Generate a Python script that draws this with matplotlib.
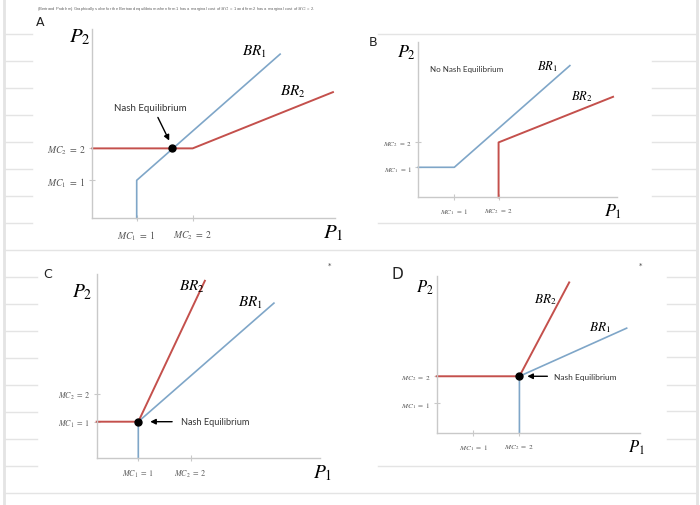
import matplotlib.pyplot as plt

plt.rcParams['mathtext.fontset'] = 'stix'

# ---- data (sketch units, MC1 tick = 1 on each axis) ----
# panel A: MC1=1, MC2=2, equilibrium where BR1 crosses flat part of BR2
a_xlim = 5.47
a_ylim = 4.98
a_xticks = [1.0, 2.26]
a_yticks = [1.0, 1.84]
a_br1_x = [1.0, 1.0, 4.23]
a_br1_y = [0.0, 1.0, 4.32]
a_br2_x = [0.0, 2.26, 5.42]
a_br2_y = [1.84, 1.84, 3.32]
a_nash = (1.80, 1.84)

# panel B: no equilibrium
b_xlim = 5.52
b_ylim = 5.18
b_xticks = [1.0, 2.23]
b_yticks = [1.0, 1.83]
b_br1_x = [0.0, 1.0, 4.21]
b_br1_y = [1.0, 1.0, 4.39]
b_br2_x = [2.23, 2.23, 5.41]
b_br2_y = [0.0, 1.83, 3.35]

# panel C: equilibrium at (1, 1)
c_xlim = 5.37
c_ylim = 5.04
c_xticks = [1.0, 2.26]
c_yticks = [1.0, 1.76]
c_br2_x = [0.0, 1.0, 2.60]
c_br2_y = [1.0, 1.0, 4.85]
c_br1_x = [1.0, 1.0, 4.26]
c_br1_y = [0.0, 1.0, 4.24]
c_nash = (1.0, 1.0)

# panel D: equilibrium at (2, 2)
d_xlim = 5.55
d_ylim = 5.30
d_xticks = [1.0, 2.26]
d_yticks = [1.0, 1.91]
d_br2_x = [0.0, 2.26, 3.62]
d_br2_y = [1.91, 1.91, 5.07]
d_br1_x = [2.26, 2.26, 5.19]
d_br1_y = [0.0, 1.91, 3.53]
d_nash = (2.26, 1.91)

mc_labels_x = [r'$MC_1\ =\ 1$', r'$MC_2\ =\ 2$']
mc_labels_y = [r'$MC_1\ =\ 1$', r'$MC_2\ =\ 2$']

blue = '#7fa6c8'
red = '#c4504c'
grey = '#c9c9c9'

W, H = 700, 506
fig = plt.figure(figsize=(7, 5.06), dpi=100)

# notebook paper background
bg = fig.add_axes([0, 0, 1, 1])
bg.set_xlim(0, W)
bg.set_ylim(H, 0)
bg.axis('off')
paper = '#e4e4e4'
bg.plot([4, 4], [0, H], color=paper, lw=2)
bg.plot([697, 697], [0, H], color=paper, lw=2)
for yy in [35, 62, 89, 116, 143, 170, 197, 224]:
    bg.plot([5, 32], [yy, yy], color=paper, lw=1)
for yy in [278, 305, 332, 359, 386, 413, 440, 467]:
    bg.plot([5, 37], [yy, yy], color=paper, lw=1)
for yy in [62, 89, 116, 143, 170, 197]:
    bg.plot([652, 697], [yy, yy], color=paper, lw=1)
for yy in [278, 305, 332, 358, 386, 412, 440]:
    bg.plot([667, 697], [yy, yy], color=paper, lw=1)
for yy in [251, 494]:
    bg.plot([4, 697], [yy, yy], color=paper, lw=1)
for yy in [35, 224, 467]:
    bg.plot([378, 697], [yy, yy], color=paper, lw=1)

fig.text(37 / W, 1 - 9 / H,
         '(Bertrand Problem) Graphically solve for the Bertrand equilibrium when firm 1 has a '
         'marginal cost of $MC_1$ = 1 and firm 2 has a marginal cost of $MC_2$ = 2.',
         fontsize=3.0, color='#666666', va='center', family='Liberation Sans')


def make_panel(ox, oy, ux, uy, xlim, ylim, xticks, yticks, tick_size, xpad):
    ax = fig.add_axes([ox / W, (H - oy) / H, xlim * ux / W, ylim * uy / H])
    ax.set_xlim(0, xlim)
    ax.set_ylim(0, ylim)
    ax.set_facecolor('none')
    for s in ['top', 'right']:
        ax.spines[s].set_visible(False)
    for s in ['left', 'bottom']:
        ax.spines[s].set_color(grey)
        ax.spines[s].set_linewidth(1)
    ax.set_xticks(xticks)
    ax.set_yticks(yticks)
    ax.set_xticklabels(mc_labels_x)
    ax.set_yticklabels(mc_labels_y)
    ax.tick_params(direction='inout', length=5, color=grey, labelsize=tick_size,
                   labelcolor='#555555')
    ax.tick_params(axis='x', pad=xpad)
    ax.tick_params(axis='y', pad=2)
    return ax


def label(ax, x, y, s, size):
    ax.text(x, y, s, fontsize=size, ha='center', va='center', clip_on=False)


# ---- panel A ----
ax = make_panel(92.3, 219.3, 44.4, 38.0, a_xlim, a_ylim, a_xticks, a_yticks, 7, 5)
ax.plot(a_br1_x, a_br1_y, color=blue, lw=1.2, clip_on=False)
ax.plot(a_br2_x, a_br2_y, color=red, lw=1.4, clip_on=False)
ax.plot(*a_nash, 'o', color='k', ms=5, zorder=5, clip_on=False)
ax.annotate('', xy=(1.76, 1.98), xytext=(1.45, 2.72),
            arrowprops=dict(arrowstyle='-|>', color='k', lw=1, mutation_scale=8))
ax.text(1.30, 2.92, 'Nash Equilibrium', fontsize=7, ha='center', va='center',
        family='Lato', color='#333333')
label(ax, -0.28, 4.80, r'$P_2$', 15)
label(ax, 5.42, -0.36, r'$P_1$', 15)
label(ax, 3.66, 4.40, r'$BR_1$', 11)
label(ax, 4.52, 3.35, r'$BR_2$', 11)

# ---- panel B ----
ax = make_panel(418.3, 198.3, 36.0, 30.0, b_xlim, b_ylim, b_xticks, b_yticks, 5, 4)
ax.plot(b_br1_x, b_br1_y, color=blue, lw=1.2, clip_on=False)
ax.plot(b_br2_x, b_br2_y, color=red, lw=1.4, clip_on=False)
ax.text(1.34, 4.30, 'No Nash Equilibrium', fontsize=5.8, ha='center', va='center',
        family='Lato', color='#333333')
label(ax, -0.32, 4.84, r'$P_2$', 13)
label(ax, 5.41, -0.45, r'$P_1$', 13)
label(ax, 3.60, 4.39, r'$BR_1$', 9)
label(ax, 4.54, 3.39, r'$BR_2$', 9)

# ---- panel C ----
ax = make_panel(96.7, 459.3, 41.6, 36.6, c_xlim, c_ylim, c_xticks, c_yticks, 5.8, 4)
ax.plot(c_br1_x, c_br1_y, color=blue, lw=1.2, clip_on=False)
ax.plot(c_br2_x, c_br2_y, color=red, lw=1.4, clip_on=False)
ax.plot(*c_nash, 'o', color='k', ms=5, zorder=5, clip_on=False)
ax.annotate('', xy=(1.22, 1.0), xytext=(1.88, 1.0),
            arrowprops=dict(arrowstyle='-|>', color='k', lw=1, mutation_scale=8))
ax.text(2.03, 1.0, 'Nash Equilibrium', fontsize=6.6, ha='left', va='center',
        family='Lato', color='#333333')
label(ax, -0.34, 4.58, r'$P_2$', 14)
label(ax, 5.44, -0.37, r'$P_1$', 14)
label(ax, 2.28, 4.72, r'$BR_2$', 11)
label(ax, 3.69, 4.26, r'$BR_1$', 11)

# ---- panel D ----
ax = make_panel(436.7, 434.0, 36.6, 29.7, d_xlim, d_ylim, d_xticks, d_yticks, 5.2, 4)
ax.plot(d_br1_x, d_br1_y, color=blue, lw=1.2, clip_on=False)
ax.plot(d_br2_x, d_br2_y, color=red, lw=1.4, clip_on=False)
ax.plot(*d_nash, 'o', color='k', ms=5, zorder=5, clip_on=False)
ax.annotate('', xy=(2.40, 1.91), xytext=(3.10, 1.91),
            arrowprops=dict(arrowstyle='-|>', color='k', lw=1, mutation_scale=8))
ax.text(3.21, 1.91, 'Nash Equilibrium', fontsize=6, ha='left', va='center',
        family='Lato', color='#333333')
label(ax, -0.32, 4.91, r'$P_2$', 12)
label(ax, 5.46, -0.48, r'$P_1$', 12)
label(ax, 2.96, 4.54, r'$BR_2$', 9.5)
label(ax, 4.46, 3.59, r'$BR_1$', 9.5)

# panel letters written on the page
for txt, px, py, fs in [('A', 40, 23, 9), ('B', 373, 42, 9), ('C', 48, 275, 9), ('D', 397, 275, 11)]:
    fig.text(px / W, 1 - py / H, txt, fontsize=fs, ha='center', va='center', color='#222222')
for px, py in [(330, 266), (641, 266)]:
    fig.text(px / W, 1 - py / H, '*', fontsize=5, ha='center', va='center', color='#444444')

fig.savefig('out.png', dpi=100)
